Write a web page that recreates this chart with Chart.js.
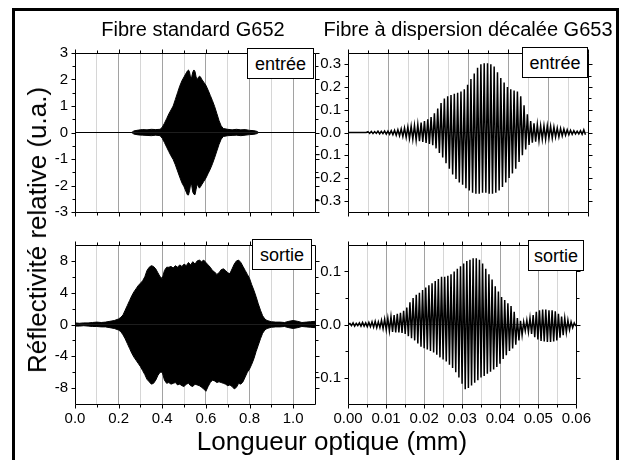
<!DOCTYPE html>
<html lang="fr">
<head>
<meta charset="utf-8">
<title>Réflectivité relative — G652 / G653</title>
<script src="https://cdn.jsdelivr.net/npm/chart.js@4.4.1/dist/chart.umd.min.js"></script>
<style>
  html, body { margin: 0; padding: 0; background: #fff; }
  body { width: 621px; height: 460px; position: relative; overflow: hidden;
         font-family: "Liberation Sans", Arial, Helvetica, sans-serif; color: #000; }
  #cadre { position: absolute; left: 12px; top: 8px; width: 607px; height: 470px;
           border: 3px solid #000; box-sizing: border-box; }
  canvas { position: absolute; }
  .titre { position: absolute; font-size: 20px; line-height: 20px; white-space: nowrap;
           transform: translate(-50%, -50%); }
  .axe { position: absolute; font-size: 26px; line-height: 26px; white-space: nowrap;
         transform: translate(-50%, -50%); }
  .axe.vertical { transform: translate(-50%, -50%) rotate(-90deg); }
  .etiquette { position: absolute; background: #fff; border: 1px solid #000; box-sizing: border-box;
               font-size: 18px; line-height: 18px; display: flex; align-items: center; justify-content: center; }
</style>
</head>
<body>
<div id="cadre"></div>
<canvas id="g652Entree"></canvas>
<canvas id="g653Entree"></canvas>
<canvas id="g652Sortie"></canvas>
<canvas id="g653Sortie"></canvas>

<div class="titre" style="left:193px; top:29px;">Fibre standard G652</div>
<div class="titre" style="left:468px; top:29px;">Fibre à dispersion décalée G653</div>
<div class="axe" style="left:332px; top:441px;">Longueur optique (mm)</div>
<div class="axe vertical" style="left:37px; top:230px;">Réflectivité relative (u.a.)</div>

<div class="etiquette" style="left:247px; top:48px; width:67px; height:31px;">entrée</div>
<div class="etiquette" style="left:522px; top:47px; width:66px; height:31px;">entrée</div>
<div class="etiquette" style="left:252px; top:239px; width:60px; height:31px;">sortie</div>
<div class="etiquette" style="left:528px; top:240px; width:56px; height:31px;">sortie</div>

<script>
// ---------- Fibre standard G652 : enveloppes du signal (longueur optique en mm) ----------
const g652EntreePositions = [0, 0.26, 0.27, 0.29, 0.31, 0.33, 0.35, 0.37, 0.39,
  0.40, 0.41, 0.42, 0.43, 0.44, 0.45, 0.46, 0.47, 0.48, 0.49, 0.50, 0.51,
  0.515, 0.52, 0.525, 0.53, 0.535, 0.54, 0.545, 0.55, 0.555, 0.56, 0.565, 0.57, 0.575, 0.58,
  0.59, 0.60, 0.61, 0.62, 0.63, 0.64, 0.65, 0.66, 0.67, 0.68,
  0.70, 0.72, 0.74, 0.76, 0.78, 0.80, 0.82, 0.835, 0.84, 1.1];
const g652EntreeHaut = [0, 0, 0.06, 0.09, 0.11, 0.10, 0.12, 0.11, 0.12,
  0.20, 0.35, 0.52, 0.70, 0.85, 1.00, 1.25, 1.50, 1.75, 1.95, 2.10, 2.25,
  2.32, 2.36, 2.28, 2.05, 2.10, 2.28, 2.36, 2.30, 2.10, 1.98, 2.08, 2.12, 2.10, 2.02,
  1.90, 1.78, 1.60, 1.40, 1.20, 0.98, 0.72, 0.45, 0.25, 0.15,
  0.12, 0.10, 0.12, 0.10, 0.11, 0.08, 0.07, 0.04, 0, 0];
const g652EntreeBas = [0, 0, -0.06, -0.09, -0.10, -0.11, -0.12, -0.10, -0.12,
  -0.22, -0.38, -0.55, -0.72, -0.88, -1.02, -1.22, -1.45, -1.68, -1.90, -2.05, -2.25,
  -2.35, -2.36, -2.20, -1.95, -2.00, -2.25, -2.33, -2.35, -2.15, -1.95, -2.02, -2.10, -2.05, -1.98,
  -1.85, -1.72, -1.55, -1.38, -1.18, -0.95, -0.70, -0.45, -0.25, -0.15,
  -0.12, -0.11, -0.10, -0.12, -0.10, -0.08, -0.07, -0.04, 0, 0];

const g652SortiePositions = [0, 0.02, 0.04, 0.06, 0.08, 0.10, 0.12, 0.14, 0.16, 0.18,
  0.20, 0.21, 0.22, 0.23, 0.24, 0.25, 0.26, 0.27, 0.28, 0.29,
  0.30, 0.31, 0.32, 0.33, 0.34, 0.35, 0.36, 0.37, 0.38, 0.39,
  0.40, 0.41, 0.42, 0.43, 0.44, 0.45, 0.46, 0.47, 0.48, 0.49,
  0.50, 0.51, 0.52, 0.53, 0.54, 0.55, 0.56, 0.57, 0.58, 0.59,
  0.60, 0.61, 0.62, 0.63, 0.64, 0.65, 0.66, 0.67, 0.68, 0.69,
  0.70, 0.71, 0.72, 0.73, 0.74, 0.75, 0.76, 0.77, 0.78, 0.79,
  0.80, 0.81, 0.82, 0.83, 0.84, 0.85, 0.86, 0.87, 0.88,
  0.90, 0.92, 0.94, 0.96, 0.98, 1.00, 1.02, 1.04, 1.06, 1.08, 1.10];
const g652SortieHaut = [0.20, 0.15, 0.20, 0.20, 0.25, 0.30, 0.25, 0.30, 0.40, 0.50,
  0.70, 0.90, 1.20, 1.80, 2.40, 3.00, 3.60, 4.10, 4.50, 4.90,
  5.20, 5.50, 6.00, 6.80, 7.20, 7.40, 7.30, 7.00, 6.50, 6.00,
  5.80, 6.80, 7.20, 7.20, 7.30, 7.10, 7.40, 7.20, 7.50, 7.30,
  7.60, 7.40, 7.80, 7.50, 7.90, 7.60, 8.00, 8.10, 7.90, 8.10,
  7.80, 7.50, 7.20, 6.80, 6.60, 6.30, 6.50, 6.90, 7.00, 6.80,
  6.50, 6.40, 7.00, 7.60, 8.00, 8.10, 7.80, 7.30, 6.80, 6.30,
  5.80, 5.00, 4.30, 3.50, 2.60, 1.80, 1.10, 0.70, 0.50,
  0.35, 0.30, 0.30, 0.25, 0.40, 0.50, 0.40, 0.25, 0.30, 0.35, 0.40];
const g652SortieBas = [-0.20, -0.20, -0.15, -0.20, -0.25, -0.25, -0.30, -0.30, -0.40, -0.50,
  -0.70, -0.90, -1.30, -1.80, -2.40, -3.00, -3.60, -4.10, -4.50, -4.90,
  -5.30, -5.80, -6.30, -6.90, -7.20, -7.50, -7.40, -7.00, -6.40, -6.00,
  -6.00, -7.00, -7.40, -7.30, -7.50, -7.40, -7.30, -7.60, -7.50, -7.70,
  -7.80, -7.50, -7.40, -7.70, -7.80, -7.50, -7.60, -7.70, -7.90, -8.10,
  -8.40, -7.80, -7.30, -7.00, -7.10, -7.30, -7.20, -7.30, -7.40, -7.50,
  -7.70, -7.60, -7.80, -8.10, -7.90, -7.40, -7.50, -7.20, -6.60, -6.00,
  -5.60, -5.00, -4.30, -3.40, -2.60, -1.80, -1.10, -0.70, -0.50,
  -0.35, -0.30, -0.30, -0.25, -0.40, -0.50, -0.40, -0.25, -0.30, -0.35, -0.40];

// ---------- Fibre G653 : crête et creux de chaque frange ----------
const g653Pas = 0.00083;            // période des franges (mm)
const g653EntreeDebut = 0.005;      // première frange (mm)
const g653EntreeCretes = [
  0.004, 0.005, 0.004, 0.006, 0.005, 0.007, 0.006, 0.008, 0.010, 0.012,
  0.016, 0.020, 0.024, 0.028, 0.032, 0.036, 0.044, 0.050, 0.058, 0.068,
  0.085, 0.105, 0.130, 0.150, 0.160, 0.165, 0.170, 0.175, 0.180, 0.190,
  0.210, 0.235, 0.260, 0.285, 0.300, 0.305, 0.305, 0.300, 0.290, 0.265,
  0.240, 0.220, 0.200, 0.190, 0.185, 0.180, 0.160, 0.120, 0.080, 0.050,
  0.040, 0.035, 0.030, 0.030, 0.030, 0.028, 0.025, 0.020, 0.018, 0.015,
  0.012, 0.010, 0.008, 0.006, 0.008, 0.012];
const g653EntreeCreux = [
  -0.004, -0.005, -0.004, -0.006, -0.005, -0.007, -0.008, -0.010, -0.012, -0.014,
  -0.018, -0.022, -0.026, -0.030, -0.034, -0.038, -0.042, -0.046, -0.050, -0.056,
  -0.070, -0.090, -0.110, -0.135, -0.160, -0.185, -0.205, -0.220, -0.230, -0.245,
  -0.255, -0.265, -0.270, -0.270, -0.265, -0.265, -0.270, -0.270, -0.265, -0.255,
  -0.240, -0.220, -0.200, -0.180, -0.160, -0.130, -0.100, -0.075, -0.055, -0.045,
  -0.040, -0.035, -0.030, -0.030, -0.025, -0.025, -0.020, -0.020, -0.015, -0.012,
  -0.010, -0.008, -0.006, -0.006, -0.008, -0.010];

const g653SortieDebut = 0.0005;
const g653SortieCretes = [
  0.002, 0.003, 0.002, 0.003, 0.004, 0.003,
  0.004, 0.005, 0.006, 0.005, 0.008, 0.010,
  0.012, 0.015, 0.018, 0.020, 0.022, 0.026,
  0.032, 0.042, 0.050, 0.056, 0.060, 0.065,
  0.070, 0.074, 0.078, 0.082, 0.086, 0.090,
  0.090, 0.092, 0.095, 0.100, 0.105, 0.110,
  0.115, 0.120, 0.122, 0.125, 0.125, 0.122,
  0.115, 0.105, 0.095, 0.085, 0.072, 0.062,
  0.052, 0.046, 0.040, 0.035, 0.024, 0.012,
  0.007, 0.005, 0.008, 0.012, 0.018, 0.024,
  0.027, 0.028, 0.028, 0.027, 0.027, 0.025,
  0.020, 0.015, 0.012, 0.008, 0.005, 0.003];
const g653SortieCreux = [
  -0.002, -0.003, -0.002, -0.003, -0.003, -0.004,
  -0.004, -0.005, -0.006, -0.006, -0.008, -0.010,
  -0.012, -0.014, -0.015, -0.015, -0.016, -0.018,
  -0.022, -0.026, -0.030, -0.036, -0.042, -0.045,
  -0.047, -0.050, -0.053, -0.057, -0.062, -0.066,
  -0.070, -0.076, -0.082, -0.090, -0.100, -0.112,
  -0.122, -0.120, -0.115, -0.110, -0.105, -0.100,
  -0.097, -0.093, -0.089, -0.085, -0.080, -0.074,
  -0.065, -0.058, -0.050, -0.045, -0.038, -0.030,
  -0.020, -0.012, -0.014, -0.018, -0.024, -0.028,
  -0.031, -0.032, -0.033, -0.033, -0.032, -0.030,
  -0.025, -0.020, -0.015, -0.010, -0.006, -0.003];

// ---------- Graduations ----------
const g652XMajeures = [0, 0.2, 0.4, 0.6, 0.8, 1.0];
const g652XEtiquettes = ['0.0', '0.2', '0.4', '0.6', '0.8', '1.0'];
const g652XMineures = [0.1, 0.3, 0.5, 0.7, 0.9];
const g653XMajeures = [0, 0.01, 0.02, 0.03, 0.04, 0.05, 0.06];
const g653XEtiquettes = ['0.00', '0.01', '0.02', '0.03', '0.04', '0.05', '0.06'];
const g653XMineures = [0.005, 0.015, 0.025, 0.035, 0.045, 0.055];

const g652EntreeYMajeures = [-3, -2, -1, 0, 1, 2, 3];
const g652EntreeYEtiquettes = ['-3', '-2', '-1', '0', '1', '2', '3'];
const g652EntreeYMineures = [-2.5, -1.5, -0.5, 0.5, 1.5, 2.5];
const g653EntreeYMajeures = [-0.3, -0.2, -0.1, 0, 0.1, 0.2, 0.3];
const g653EntreeYEtiquettes = ['-0.3', '-0.2', '-0.1', '0.0', '0.1', '0.2', '0.3'];
const g653EntreeYMineures = [-0.25, -0.15, -0.05, 0.05, 0.15, 0.25];
const g652SortieYMajeures = [-8, -4, 0, 4, 8];
const g652SortieYEtiquettes = ['-8', '-4', '0', '4', '8'];
const g652SortieYMineures = [-6, -2, 2, 6];
const g653SortieYMajeures = [-0.1, 0, 0.1];
const g653SortieYEtiquettes = ['-0.1', '0.0', '0.1'];
const g653SortieYMineures = [-0.05, 0.05];

// ---------- Construction des séries ----------
function enveloppe(positions, valeurs) {
  return positions.map((x, i) => ({ x, y: valeurs[i] }));
}
function franges(debut, cretes, creux) {
  const pts = [{ x: 0, y: 0 }, { x: debut - g653Pas / 2, y: 0 }];
  cretes.forEach((c, i) => {
    pts.push({ x: debut + i * g653Pas, y: c });
    pts.push({ x: debut + (i + 0.5) * g653Pas, y: creux[i] });
  });
  return pts;
}
function remplissage(points) {
  return { data: points, borderColor: '#000', backgroundColor: '#000', borderWidth: 1,
           fill: 'origin', pointRadius: 0, tension: 0 };
}
function trace(points) {
  return { data: points, borderColor: '#000', borderWidth: 1.5, fill: false,
           pointRadius: 0, tension: 0, borderJoinStyle: 'miter' };
}

// ---------- Mise en page des panneaux ----------
const MARGE_G = 45, MARGE_D = 8, MARGE_H = 8, MARGE_B = 30;
const GRIS_FORT = '#a2a2a2', GRIS_CLAIR = '#d6d6d6';
const proche = (a, b) => Math.abs(a - b) < 1e-9;

Chart.defaults.font.family = '"Liberation Sans", Arial, Helvetica, sans-serif';
Chart.defaults.font.size = 15;
Chart.defaults.color = '#000';

// cadre noir et graduations sortantes sur les quatre côtés
const cadrePlugin = {
  id: 'cadre',
  afterDraw(chart, args, opts) {
    const { ctx, chartArea: a, scales } = chart;
    const al = v => Math.round(v) + 0.5;
    ctx.save();
    ctx.strokeStyle = '#000';
    ctx.lineWidth = 1;
    ctx.beginPath();
    ctx.rect(al(a.left), al(a.top), Math.round(a.right) - Math.round(a.left), Math.round(a.bottom) - Math.round(a.top));
    ctx.stroke();
    ctx.beginPath();
    [[opts.xMaj, 4], [opts.xMin, 3]].forEach(([vals, len]) => vals.forEach(v => {
      const px = al(scales.x.getPixelForValue(v));
      ctx.moveTo(px, al(a.bottom)); ctx.lineTo(px, al(a.bottom) + len);
      ctx.moveTo(px, al(a.top)); ctx.lineTo(px, al(a.top) - len);
    }));
    [[opts.yMaj, 4], [opts.yMin, 3]].forEach(([vals, len]) => vals.forEach(v => {
      const py = al(scales.y.getPixelForValue(v));
      ctx.moveTo(al(a.left), py); ctx.lineTo(al(a.left) - len, py);
      ctx.moveTo(al(a.right), py); ctx.lineTo(al(a.right) + len, py);
    }));
    ctx.stroke();
    ctx.restore();
  }
};

function panneau(id, zone, ax, ay, jeux) {
  const c = document.getElementById(id);
  const W = zone.w + MARGE_G + MARGE_D, H = zone.h + MARGE_H + MARGE_B;
  c.width = W; c.height = H;
  c.style.width = W + 'px'; c.style.height = H + 'px';
  c.style.left = (zone.l - MARGE_G) + 'px'; c.style.top = (zone.t - MARGE_H) + 'px';

  const etiqX = v => { const i = ax.maj.findIndex(m => proche(m, v)); return i >= 0 ? ax.lab[i] : ''; };
  const etiqY = v => { const i = ay.maj.findIndex(m => proche(m, v)); return i >= 0 ? ay.lab[i] : ''; };

  new Chart(c, {
    type: 'line',
    data: { datasets: jeux },
    options: {
      responsive: false, animation: false, devicePixelRatio: 1,
      layout: { padding: { left: 0, right: MARGE_D, top: MARGE_H, bottom: 0 } },
      plugins: { legend: { display: false }, tooltip: { enabled: false },
                 cadre: { xMaj: ax.maj, xMin: ax.min, yMaj: ay.maj, yMin: ay.min } },
      scales: {
        x: {
          type: 'linear', min: ax.de, max: ax.a,
          afterBuildTicks: s => { s.ticks = [...ax.maj, ...ax.min].sort((p, q) => p - q).map(value => ({ value })); },
          afterFit: s => { s.height = MARGE_B; },
          ticks: { display: ax.visible, padding: 6, maxRotation: 0, autoSkip: false,
                   callback: v => etiqX(v) },
          grid: { drawTicks: false,
                  color: g => (g.tick && ax.maj.some(m => proche(m, g.tick.value))) ? GRIS_FORT : GRIS_CLAIR },
          border: { display: false }
        },
        y: {
          type: 'linear', min: ay.de, max: ay.a,
          afterBuildTicks: s => { s.ticks = [...ay.maj, ...ay.min].sort((p, q) => p - q).map(value => ({ value })); },
          afterFit: s => { s.width = MARGE_G; },
          ticks: { padding: 7, autoSkip: false, callback: v => etiqY(v) },
          grid: { drawTicks: false,
                  color: g => (g.tick && proche(g.tick.value, 0)) ? '#7a7a7a' : 'rgba(0,0,0,0)' },
          border: { display: false }
        }
      }
    },
    plugins: [cadrePlugin]
  });
}

const axeXG652Haut = { de: 0, a: 1.1, maj: g652XMajeures, lab: g652XEtiquettes, min: g652XMineures, visible: false };
const axeXG652Bas = { ...axeXG652Haut, visible: true };
const axeXG653Haut = { de: 0, a: 0.06, maj: g653XMajeures, lab: g653XEtiquettes, min: g653XMineures, visible: false };
const axeXG653Bas = { ...axeXG653Haut, visible: true };

panneau('g652Entree', { l: 75, t: 45, w: 240, h: 167 }, axeXG652Haut,
  { de: -3, a: 3, maj: g652EntreeYMajeures, lab: g652EntreeYEtiquettes, min: g652EntreeYMineures },
  [remplissage(enveloppe(g652EntreePositions, g652EntreeHaut)),
   remplissage(enveloppe(g652EntreePositions, g652EntreeBas))]);

panneau('g653Entree', { l: 348, t: 45, w: 240, h: 167 }, axeXG653Haut,
  { de: -0.35, a: 0.35, maj: g653EntreeYMajeures, lab: g653EntreeYEtiquettes, min: g653EntreeYMineures },
  [trace(franges(g653EntreeDebut, g653EntreeCretes, g653EntreeCreux))]);

panneau('g652Sortie', { l: 75, t: 237, w: 240, h: 167 }, axeXG652Bas,
  { de: -10, a: 10, maj: g652SortieYMajeures, lab: g652SortieYEtiquettes, min: g652SortieYMineures },
  [remplissage(enveloppe(g652SortiePositions, g652SortieHaut)),
   remplissage(enveloppe(g652SortiePositions, g652SortieBas))]);

panneau('g653Sortie', { l: 348, t: 237, w: 241, h: 167 }, axeXG653Bas,
  { de: -0.15, a: 0.15, maj: g653SortieYMajeures, lab: g653SortieYEtiquettes, min: g653SortieYMineures },
  [trace(franges(g653SortieDebut, g653SortieCretes, g653SortieCreux))]);
</script>
</body>
</html>
